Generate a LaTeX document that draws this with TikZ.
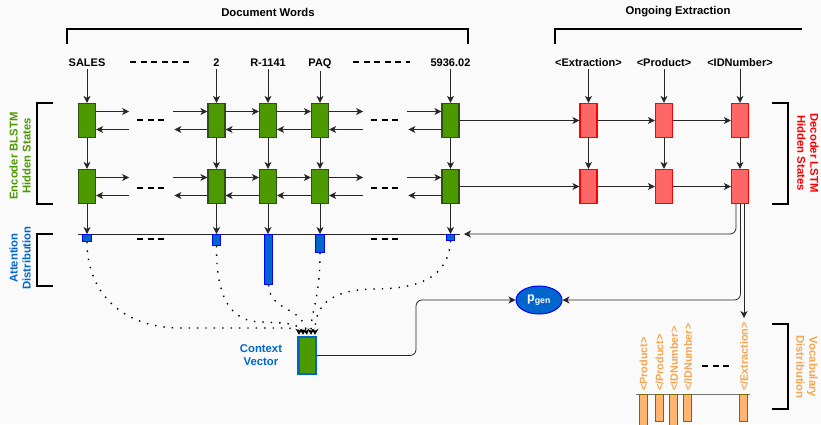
\documentclass[tikz,border=0pt]{standalone}
\usepackage{fontspec}
\setmainfont{Liberation Sans}
\usetikzlibrary{arrows.meta,calc,shapes.geometric}
\definecolor{encgreen}{HTML}{4D9900}
\definecolor{encborder}{HTML}{2D5016}
\definecolor{decred}{HTML}{FF6666}
\definecolor{attblue}{HTML}{0066CC}
\definecolor{vocor}{HTML}{FFB570}
\definecolor{vocborder}{HTML}{7A6A00}
\definecolor{voctext}{HTML}{F5A650}
\definecolor{bgc}{HTML}{FAFAFA}
\tikzset{
  enc/.style={draw=encborder, fill=encgreen, line width=1.2pt, minimum width=17pt, minimum height=34pt, inner sep=0pt},
  dec/.style={draw=red, fill=decred, line width=1.2pt, minimum width=17pt, minimum height=34pt, inner sep=0pt},
  attbox/.style={draw=blue, fill=attblue, line width=1pt, minimum width=8.5pt, inner sep=0pt, anchor=north},
  vbar/.style={draw=vocborder, fill=vocor, line width=1pt, minimum width=8pt, inner sep=0pt, anchor=north},
  arr/.style={-{Stealth[length=7pt,width=7pt,inset=2pt]}, line width=0.8pt, draw=black!85},
  plain/.style={line width=0.8pt, draw=black!85},
  brk/.style={line width=1.5pt, draw=black},
  dots/.style={dash pattern=on 1.4pt off 7pt, line width=1.4pt, -{Stealth[length=6pt,width=7pt,inset=2pt]}},
  gap/.style={dash pattern=on 6pt off 4.5pt, line width=1.4pt},
  wordlbl/.style={font=\bfseries\fontsize{11}{13}\selectfont, anchor=base, inner sep=3pt},
  title/.style={font=\bfseries\fontsize{11.3}{13}\selectfont},
  side/.style={font=\bfseries\fontsize{11.3}{13}\selectfont, align=center},
  voclbl/.style={font=\bfseries\fontsize{10.8}{12}\selectfont, text=voctext, rotate=90, anchor=west, inner sep=1pt},
}
\begin{document}
\begin{tikzpicture}[x=1pt,y=-1pt]
\fill[bgc] (0,0) rectangle (821,424);
\useasboundingbox (0,0) rectangle (821,424);

% titles and brackets
\node[title] (t1) at (268,12) {Document Words};
\node[title] (t2) at (678,12) {Ongoing Extraction};
\draw[brk] (67,44) -- (67,29) -- (468,29) -- (468,44);
\draw[brk] (555,44) -- (555,29) -- (802,29);

% words
\node[wordlbl] (w1) at (87,66) {SALES};
\node[wordlbl] (w2) at (216.5,66) {2};
\node[wordlbl] (w3) at (268,66) {R-1141};
\node[wordlbl] (w4) at (320,66) {PAQ};
\node[wordlbl] (w5) at (450.5,66) {5936.02};
\node[wordlbl] (x1) at (588.5,66) {<Extraction>};
\node[wordlbl] (x2) at (664,66) {<Product>};
\node[wordlbl] (x3) at (740,66) {<IDNumber>};
\draw[gap] (130,62) -- (190,62);
\draw[gap] (353,62) -- (410,62);

% encoder boxes
\foreach \i/\x in {1/87,2/216.5,3/268,4/320,5/450.5}{
  \node[enc] (e\i a) at (\x,120.5) {};
  \node[enc] (e\i b) at (\x,186.5) {};
}
% decoder boxes
\foreach \i/\x in {1/588.5,2/664,3/740}{
  \node[dec] (d\i a) at (\x,120.5) {};
  \node[dec] (d\i b) at (\x,186.5) {};
}

% attention line
\coordinate (A0) at (78,234);
\coordinate (A1) at (460,234);
\coordinate (A2) at (464,234);
\draw[plain] (A0) -- (A1);

% vertical arrows encoder
\foreach \i in {1,...,5}{
  \draw[arr] (w\i.south) -- (e\i a.north);
  \draw[arr] (e\i a.south) -- (e\i b.north);
  \draw[arr] (e\i b.south) -- (e\i b.south |- A0);
}
% vertical arrows decoder
\foreach \i in {1,2,3}{
  \draw[arr] (x\i.south) -- (d\i a.north);
  \draw[arr] (d\i a.south) -- (d\i b.north);
}

% horizontal encoder arrows
\foreach \r in {a,b}{
  \draw[arr] ($(e1\r.east)+(0,-9)$) -- ++(33,0);
  \draw[arr] ($(e1\r.east)+(33,9)$) -- ($(e1\r.east)+(0,9)$);
  \draw[arr] ($(e2\r.west)+(-34,-9)$) -- ($(e2\r.west)+(0,-9)$);
  \draw[arr] ($(e2\r.west)+(0,9)$) -- ++(-33,0);
  \draw[arr] ($(e2\r.east)+(0,-9)$) -- ($(e3\r.west)+(0,-9)$);
  \draw[arr] ($(e3\r.west)+(0,9)$) -- ($(e2\r.east)+(0,9)$);
  \draw[arr] ($(e3\r.east)+(0,-9)$) -- ($(e4\r.west)+(0,-9)$);
  \draw[arr] ($(e4\r.west)+(0,9)$) -- ($(e3\r.east)+(0,9)$);
  \draw[arr] ($(e4\r.east)+(0,-9)$) -- ++(34,0);
  \draw[arr] ($(e4\r.east)+(34,9)$) -- ($(e4\r.east)+(0,9)$);
  \draw[arr] ($(e5\r.west)+(-34,-9)$) -- ($(e5\r.west)+(0,-9)$);
  \draw[arr] ($(e5\r.west)+(0,9)$) -- ++(-33,0);
  \draw[arr] (e5\r.east) -- (d1\r.west);
  \draw[arr] (d1\r.east) -- (d2\r.west);
  \draw[arr] (d2\r.east) -- (d3\r.west);
}
\draw[gap] (137,120) -- (165,120);
\draw[gap] (137,188) -- (165,188);
\draw[gap] (371,120) -- (399,120);
\draw[gap] (371,188) -- (399,188);

% attention boxes
\node[attbox, minimum height=7pt] (a1) at (87,234) {};
\node[attbox, minimum height=11pt] (a2) at (216.5,234) {};
\node[attbox, minimum height=50pt] (a3) at (268.5,234) {};
\node[attbox, minimum height=18pt] (a4) at (320,234) {};
\node[attbox, minimum height=6pt] (a5) at (450.5,234) {};
\draw[gap] (137,239) -- (165,239);
\draw[gap] (371,239) -- (399,239);

% context vector
\node[draw=attblue, fill=encgreen, line width=2.5pt, minimum width=17.5pt, minimum height=37pt, inner sep=0pt] (cv) at (307,355.5) {};
\node[side, text=attblue] (cvl) at (261,355) {Context\\Vector};

\draw[dots] (a1.south) .. controls (87,295) and (125,328) .. (180,328) -- (285,328) .. controls (293,328) and (299,330) .. ($(cv.north)+(-8,-1)$);
\draw[dots] (a2.south) .. controls (216,300) and (232,322) .. (262,322) -- (283,323) .. controls (294,324) and (303,328) .. ($(cv.north)+(-4,-1)$);
\draw[dots] (a3.south) .. controls (270,312) and (302,306) .. ($(cv.north)+(0,-1)$);
\draw[dots] (a4.south) .. controls (320,300) and (311,310) .. ($(cv.north)+(4,-1)$);
\draw[dots] (a5.south) .. controls (448,285) and (405,289) .. (370,289) .. controls (330,291) and (315,305) .. ($(cv.north)+(8,-1)$);

% p_gen
\node[ellipse, draw=blue, fill=attblue, line width=1pt, minimum width=46pt, minimum height=28pt, inner sep=0pt, text=white, font=\bfseries\fontsize{12.5}{14}\selectfont] (pg) at (539,300) {p\textsubscript{gen}};
\coordinate (bend) at (416,330);
\draw[arr, rounded corners=6pt] (cv.east) -| (bend) |- (pg.west);

% decoder outputs
\coordinate (vt) at (744,318);
\draw[arr, rounded corners=6pt] ($(d3b.south)+(-4,0)$) |- (A2);
\draw[arr, rounded corners=6pt] ($(d3b.south)+(0.5,0)$) |- (pg.east);
\draw[arr] ($(d3b.south)+(4,0)$) -- (d3b.south -| vt) -- (vt);

% vocabulary distribution
\coordinate (V0) at (636,394);
\coordinate (V1) at (750,394);
\draw[plain, draw=black!55, line width=1pt] (V0) -- (V1);
\node[vbar, minimum height=32pt] (v1) at (643,394) {};
\node[vbar, minimum height=27pt] (v2) at (659,394) {};
\node[vbar, minimum height=32pt] (v3) at (673.5,394) {};
\node[vbar, minimum height=27pt] (v4) at (687.5,394) {};
\node[vbar, minimum height=27pt] (v5) at (743.5,394) {};
\node[voclbl] (l1) at (643.5,392) {<Product>};
\node[voclbl] (l2) at (659.5,392) {</Product>};
\node[voclbl] (l3) at (674,392) {<IDNumber>};
\node[voclbl] (l4) at (688,392) {</IDNumber>};
\node[voclbl] (l5) at (744,392) {</Extraction>};
\draw[gap] (702,366) -- (730,366);

% side brackets
\draw[brk] (53,103) -- (37,103) -- (37,204) -- (53,204);
\draw[brk] (53,234) -- (37,234) -- (37,286) -- (53,286);
\draw[brk] (772,103) -- (788,103) -- (788,204) -- (772,204);
\draw[brk] (772,324) -- (788,324) -- (788,409) -- (772,409);

\node[side, text=encgreen, rotate=90] (s1) at (20,156) {Encoder BLSTM\\Hidden States};
\node[side, text=attblue, rotate=90] (s2) at (20,258) {Attention\\Distribution};
\node[side, text=red, rotate=-90] (s3) at (808,153) {Decoder LSTM\\Hidden States};
\node[side, text=voctext, rotate=-90] (s4) at (807,367) {Vocabulary\\Distribution};
\end{tikzpicture}
\end{document}
